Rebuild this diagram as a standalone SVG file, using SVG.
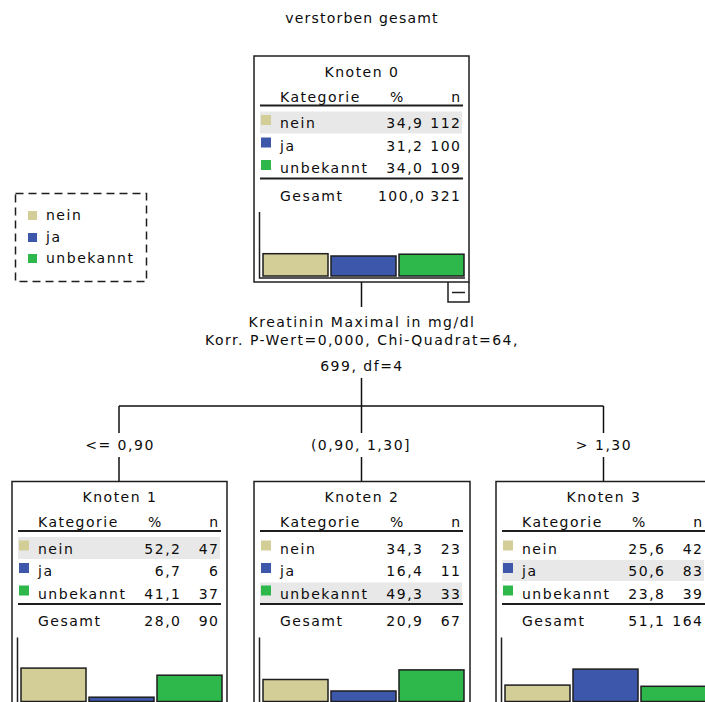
<svg xmlns="http://www.w3.org/2000/svg" width="705" height="702" viewBox="0 0 705 702">
  <style>
    text { font-family: "DejaVu Sans", "Liberation Sans", sans-serif; font-size: 14px; fill: #0c0c0c; letter-spacing: 1.5px; }
    .mid { text-anchor: middle; }
    .end { text-anchor: end; }
    .box { fill: #ffffff; stroke: #1e1e1e; stroke-width: 1.5; }
    .rule { stroke: #1e1e1e; stroke-width: 2; }
    .axis { fill: none; stroke: #1e1e1e; stroke-width: 1.5; }
    .hl { fill: #e8e8e8; }
    .bar { stroke: #1e1e1e; stroke-width: 1.5; }
    .nein { fill: #d3cd98; }
    .ja { fill: #3d58aa; }
    .unb { fill: #2eb84b; }
    .conn { fill: none; stroke: #111111; stroke-width: 1.5; }
    .legend { fill: none; stroke: #1e1e1e; stroke-width: 1.5; stroke-dasharray: 8 5; }
  </style>

  <!-- tree title -->
  <text class="mid" x="362" y="23" style="letter-spacing:1.2px">verstorben gesamt</text>

  <!-- colour key -->
  <g id="legend">
    <rect class="legend" x="15.5" y="193.5" width="131" height="88"/>
    <rect class="nein" x="28" y="211" width="9" height="9"/>
    <text x="46" y="220">nein</text>
    <rect class="ja" x="28" y="233" width="9" height="9"/>
    <text x="46" y="242">ja</text>
    <rect class="unb" x="28" y="254" width="9" height="9"/>
    <text x="46" y="263">unbekannt</text>
  </g>

  <!-- connectors and split labels -->
  <g id="connectors">
    <path class="conn" d="M361.5,282 V307 M361.5,378 V406 M119,406 H603.5 M119,406 V433 M361.5,406 V433 M603.5,406 V433 M119,457 V481.5 M361.5,457 V481.5 M603.5,457 V481.5"/>
    <text class="mid" x="362" y="326.5">Kreatinin Maximal in mg/dl</text>
    <text class="mid" x="362" y="345">Korr. P-Wert=0,000, Chi-Quadrat=64,</text>
    <text class="mid" x="362" y="371">699, df=4</text>
    <text class="mid" x="120" y="449.5">&lt;= 0,90</text>
    <text class="mid" x="361" y="449.5">(0,90, 1,30]</text>
    <text class="mid" x="604" y="449.5">&gt; 1,30</text>
  </g>

  <!-- Knoten 0 -->
  <g id="node0" transform="translate(254,56)">
    <rect class="box" x="0" y="0" width="215" height="226"/>
    <text class="mid" x="108" y="20.5">Knoten 0</text>
    <text x="26" y="45.5">Kategorie</text>
    <text class="mid" x="143.5" y="45.5">%</text>
    <text class="end" x="207.5" y="45.5">n</text>
    <line class="rule" x1="6" y1="49.5" x2="209" y2="49.5"/>
    <rect class="hl" x="6" y="55.5" width="202" height="22"/>
    <rect class="nein" x="7" y="59" width="10" height="10"/>
    <text x="26" y="72">nein</text>
    <text class="end" x="169.5" y="72">34,9</text>
    <text class="end" x="207.5" y="72">112</text>
    <rect class="ja" x="7" y="81.5" width="10" height="10"/>
    <text x="26" y="94.5">ja</text>
    <text class="end" x="169.5" y="94.5">31,2</text>
    <text class="end" x="207.5" y="94.5">100</text>
    <rect class="unb" x="7" y="104" width="10" height="10"/>
    <text x="26" y="117">unbekannt</text>
    <text class="end" x="169.5" y="117">34,0</text>
    <text class="end" x="207.5" y="117">109</text>
    <line class="rule" x1="6" y1="122.5" x2="209" y2="122.5"/>
    <text x="26" y="144.5">Gesamt</text>
    <text class="end" x="171.5" y="144.5">100,0</text>
    <text class="end" x="207.5" y="144.5">321</text>
    <path class="axis" d="M5.5,156 V222 H211"/>
    <rect class="bar nein" x="9" y="197.7" width="65" height="22.3"/>
    <rect class="bar ja" x="77" y="200" width="65" height="20"/>
    <rect class="bar unb" x="145" y="198.2" width="65" height="21.8"/>
    <!-- collapse toggle -->
    <path class="axis" d="M194,226 V246 H215 V226"/>
    <line class="axis" x1="198" y1="236.5" x2="211" y2="236.5"/>
  </g>

  <!-- Knoten 1 -->
  <g id="node1" transform="translate(12,481.5)">
    <rect class="box" x="0" y="0" width="215" height="226"/>
    <text class="mid" x="108" y="20.5">Knoten 1</text>
    <text x="26" y="45.5">Kategorie</text>
    <text class="mid" x="143.5" y="45.5">%</text>
    <text class="end" x="207.5" y="45.5">n</text>
    <line class="rule" x1="6" y1="49.5" x2="209" y2="49.5"/>
    <rect class="hl" x="6" y="55.5" width="202" height="22"/>
    <rect class="nein" x="7" y="59" width="10" height="10"/>
    <text x="26" y="72">nein</text>
    <text class="end" x="169.5" y="72">52,2</text>
    <text class="end" x="207.5" y="72">47</text>
    <rect class="ja" x="7" y="81.5" width="10" height="10"/>
    <text x="26" y="94.5">ja</text>
    <text class="end" x="169.5" y="94.5">6,7</text>
    <text class="end" x="207.5" y="94.5">6</text>
    <rect class="unb" x="7" y="104" width="10" height="10"/>
    <text x="26" y="117">unbekannt</text>
    <text class="end" x="169.5" y="117">41,1</text>
    <text class="end" x="207.5" y="117">37</text>
    <line class="rule" x1="6" y1="122.5" x2="209" y2="122.5"/>
    <text x="26" y="144.5">Gesamt</text>
    <text class="end" x="169.5" y="144.5">28,0</text>
    <text class="end" x="207.5" y="144.5">90</text>
    <path class="axis" d="M5.5,156 V222 H211"/>
    <rect class="bar nein" x="9" y="186.6" width="65" height="33.4"/>
    <rect class="bar ja" x="77" y="215.7" width="65" height="4.3"/>
    <rect class="bar unb" x="145" y="193.7" width="65" height="26.3"/>
  </g>

  <!-- Knoten 2 -->
  <g id="node2" transform="translate(254,481.5)">
    <rect class="box" x="0" y="0" width="216" height="226"/>
    <text class="mid" x="108" y="20.5">Knoten 2</text>
    <text x="26" y="45.5">Kategorie</text>
    <text class="mid" x="143.5" y="45.5">%</text>
    <text class="end" x="207.5" y="45.5">n</text>
    <line class="rule" x1="6" y1="49.5" x2="209" y2="49.5"/>
    <rect class="hl" x="6" y="101" width="202" height="20.5"/>
    <rect class="nein" x="7" y="59" width="10" height="10"/>
    <text x="26" y="72">nein</text>
    <text class="end" x="169.5" y="72">34,3</text>
    <text class="end" x="207.5" y="72">23</text>
    <rect class="ja" x="7" y="81.5" width="10" height="10"/>
    <text x="26" y="94.5">ja</text>
    <text class="end" x="169.5" y="94.5">16,4</text>
    <text class="end" x="207.5" y="94.5">11</text>
    <rect class="unb" x="7" y="104" width="10" height="10"/>
    <text x="26" y="117">unbekannt</text>
    <text class="end" x="169.5" y="117">49,3</text>
    <text class="end" x="207.5" y="117">33</text>
    <line class="rule" x1="6" y1="122.5" x2="209" y2="122.5"/>
    <text x="26" y="144.5">Gesamt</text>
    <text class="end" x="169.5" y="144.5">20,9</text>
    <text class="end" x="207.5" y="144.5">67</text>
    <path class="axis" d="M5.5,156 V222 H211"/>
    <rect class="bar nein" x="9" y="198" width="65" height="22"/>
    <rect class="bar ja" x="77" y="209.5" width="65" height="10.5"/>
    <rect class="bar unb" x="145" y="188.4" width="65" height="31.6"/>
  </g>

  <!-- Knoten 3 -->
  <g id="node3" transform="translate(496,481.5)">
    <rect class="box" x="0" y="0" width="215" height="226"/>
    <text class="mid" x="108" y="20.5">Knoten 3</text>
    <text x="26" y="45.5">Kategorie</text>
    <text class="mid" x="143.5" y="45.5">%</text>
    <text class="end" x="207.5" y="45.5">n</text>
    <line class="rule" x1="6" y1="49.5" x2="209" y2="49.5"/>
    <rect class="hl" x="6" y="78.5" width="202" height="21"/>
    <rect class="nein" x="7" y="59" width="10" height="10"/>
    <text x="26" y="72">nein</text>
    <text class="end" x="169.5" y="72">25,6</text>
    <text class="end" x="207.5" y="72">42</text>
    <rect class="ja" x="7" y="81.5" width="10" height="10"/>
    <text x="26" y="94.5">ja</text>
    <text class="end" x="169.5" y="94.5">50,6</text>
    <text class="end" x="207.5" y="94.5">83</text>
    <rect class="unb" x="7" y="104" width="10" height="10"/>
    <text x="26" y="117">unbekannt</text>
    <text class="end" x="169.5" y="117">23,8</text>
    <text class="end" x="207.5" y="117">39</text>
    <line class="rule" x1="6" y1="122.5" x2="209" y2="122.5"/>
    <text x="26" y="144.5">Gesamt</text>
    <text class="end" x="169.5" y="144.5">51,1</text>
    <text class="end" x="207.5" y="144.5">164</text>
    <path class="axis" d="M5.5,156 V222 H211"/>
    <rect class="bar nein" x="9" y="203.6" width="65" height="16.4"/>
    <rect class="bar ja" x="77" y="187.6" width="65" height="32.4"/>
    <rect class="bar unb" x="145" y="204.8" width="65" height="15.2"/>
  </g>
</svg>
